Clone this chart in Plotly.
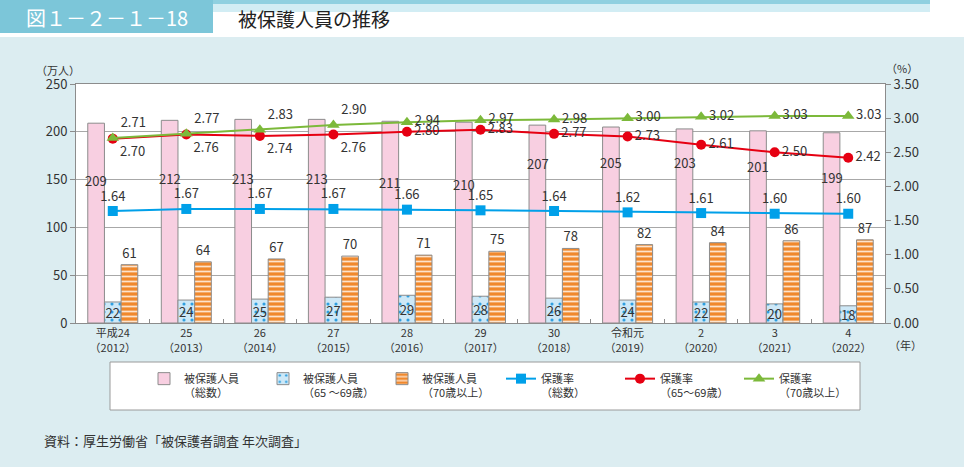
import plotly.graph_objects as go

# ---------------- data ----------------
categories = ["平成24<br>（2012）", "25<br>（2013）", "26<br>（2014）", "27<br>（2015）",
              "28<br>（2016）", "29<br>（2017）", "30<br>（2018）", "令和元<br>（2019）",
              "2<br>（2020）", "3<br>（2021）", "4<br>（2022）"]
total_persons = [209, 212, 213, 213, 211, 210, 207, 205, 203, 201, 199]
persons_65_69 = [22, 24, 25, 27, 29, 28, 26, 24, 22, 20, 18]
persons_70_over = [61, 64, 67, 70, 71, 75, 78, 82, 84, 86, 87]
rate_total = [1.64, 1.67, 1.67, 1.67, 1.66, 1.65, 1.64, 1.62, 1.61, 1.60, 1.60]
rate_65_69 = [2.70, 2.76, 2.74, 2.76, 2.80, 2.83, 2.77, 2.73, 2.61, 2.50, 2.42]
rate_70_over = [2.71, 2.77, 2.83, 2.90, 2.94, 2.97, 2.98, 3.00, 3.02, 3.03, 3.03]

# ---------------- styling ----------------
FONT = "Noto Sans CJK JP"
W, H = 964, 467
L, R, T, B = 76, 79, 84, 144
PW, PH = W - L - R, H - T - B

def px_x(px):
    return (px - L) / PW

def px_y(py):
    return (H - B - py) / PH

pink_label_shift = [-57, -58, -59, -59, -61, -62, -38, -35, -34, -36, -45]
red_pos = ["bottom right"] * 4 + ["middle right"] * 7
green_pos = ["top right"] * 4 + ["middle right"] * 7
LABEL_FONT = dict(family=FONT, size=13, color="#333333")

fig = go.Figure()

fig.add_trace(go.Bar(
    x=categories, y=total_persons, name="被保護人員<br>（総数）",
    marker=dict(color="#f8cfe1", line=dict(color="#8c8c8c", width=1)),
    yaxis="y",
))
fig.add_trace(go.Bar(
    x=categories, y=persons_65_69, name="被保護人員<br>（65 ～69歳）",
    marker=dict(color="#cde8f7", line=dict(color="#8c8c8c", width=1),
                pattern=dict(shape=".", fgcolor="#2f9fe0", bgcolor="#cde8f7",
                             fillmode="replace", size=8, solidity=0.12)),
    text=[str(v) for v in persons_65_69], textposition="inside",
    insidetextanchor="middle", constraintext="none",
    textfont=LABEL_FONT, yaxis="y",
))
fig.add_trace(go.Bar(
    x=categories, y=persons_70_over, name="被保護人員<br>（70歳以上）",
    marker=dict(color="#f0882c", line=dict(color="#8c8c8c", width=1),
                pattern=dict(shape="-", fgcolor="#fde3cc", bgcolor="#f0882c",
                             fillmode="replace", size=5, solidity=0.35)),
    text=[str(v) for v in persons_70_over], textposition="outside",
    constraintext="none", cliponaxis=False,
    textfont=LABEL_FONT, yaxis="y",
))
fig.add_trace(go.Scatter(
    x=categories, y=rate_total, name="保護率<br>（総数）", yaxis="y2",
    mode="lines+markers+text",
    line=dict(color="#00a0e9", width=2),
    marker=dict(symbol="square", size=10, color="#00a0e9"),
    text=[f"{v:.2f}" for v in rate_total], textposition="top center",
    textfont=LABEL_FONT, cliponaxis=False,
))
fig.add_trace(go.Scatter(
    x=categories, y=rate_65_69, name="保護率<br>（65～69歳）", yaxis="y2",
    mode="lines+markers+text",
    line=dict(color="#e60012", width=2),
    marker=dict(symbol="circle", size=10, color="#e60012"),
    text=[f"{v:.2f}" for v in rate_65_69], textposition=red_pos,
    textfont=LABEL_FONT, cliponaxis=False,
))
fig.add_trace(go.Scatter(
    x=categories, y=rate_70_over, name="保護率<br>（70歳以上）", yaxis="y2",
    mode="lines+markers+text",
    line=dict(color="#7cb93a", width=2),
    marker=dict(symbol="triangle-up", size=11, color="#7cb93a"),
    text=[f"{v:.2f}" for v in rate_70_over], textposition=green_pos,
    textfont=LABEL_FONT, cliponaxis=False,
))

annotations = []
for cat, v, sh in zip(categories, total_persons, pink_label_shift):
    annotations.append(dict(x=cat, y=v, xref="x", yref="y", text=str(v), showarrow=False,
                            xanchor="center", yanchor="middle",
                            xshift=-16.5, yshift=sh, font=LABEL_FONT))

def paper_text(px, py, text, size, color="#333333", xanchor="center"):
    return dict(x=px_x(px), y=px_y(py), xref="paper", yref="paper", text=text,
                showarrow=False, xanchor=xanchor, yanchor="middle",
                font=dict(family=FONT, size=size, color=color))

annotations += [
    paper_text(58, 70, "（万人）", 11),
    paper_text(902, 68, "（%）", 11),
    paper_text(906, 345, "（年）", 11),
    paper_text(107, 17, "図１－２－１－18", 20, "#ffffff"),
    paper_text(236, 18, "被保護人員の推移", 19, "#222222", "left"),
    paper_text(42, 440, "資料：厚生労働省「被保護者調査 年次調査」", 13, "#333333", "left"),
]

shapes = [
    dict(type="rect", xref="paper", yref="paper", x0=px_x(0), x1=px_x(W), y0=px_y(0), y1=px_y(37),
         fillcolor="#ffffff", line=dict(width=0), layer="below"),
    dict(type="rect", xref="paper", yref="paper", x0=px_x(213), x1=px_x(930), y0=px_y(0), y1=px_y(4),
         fillcolor="#8fd0e0", line=dict(width=0), layer="below"),
    dict(type="rect", xref="paper", yref="paper", x0=px_x(213), x1=px_x(930), y0=px_y(4), y1=px_y(12),
         fillcolor="#d2edf4", line=dict(width=0), layer="below"),
    dict(type="rect", xref="paper", yref="paper", x0=px_x(0), x1=px_x(213), y0=px_y(0), y1=px_y(33),
         fillcolor="#7cc6d9", line=dict(width=0), layer="below"),
    dict(type="rect", xref="paper", yref="paper", x0=px_x(110), x1=px_x(860), y0=px_y(362), y1=px_y(410),
         fillcolor="#ffffff", line=dict(color="#9a9a9a", width=1), layer="below"),
]

fig.update_layout(
    width=W, height=H,
    margin=dict(l=L, r=R, t=T, b=B, pad=0, autoexpand=False),
    paper_bgcolor="#dcedf1", plot_bgcolor="#ffffff",
    font=dict(family=FONT, size=12, color="#333333"),
    barmode="group", bargap=0.32, bargroupgap=0,
    showlegend=True,
    legend=dict(orientation="h", x=px_x(144), y=px_y(386), xanchor="left", yanchor="middle",
                bgcolor="rgba(0,0,0,0)", borderwidth=0, entrywidth=74, entrywidthmode="pixels",
                valign="top", font=dict(family=FONT, size=11, color="#333333"),
                traceorder="normal", itemwidth=30),
    xaxis=dict(type="category", range=[-0.5, len(categories) - 0.5], autorange=False,
               showline=True, linecolor="#8c8c8c", linewidth=1, mirror=True,
               ticks="inside", tickson="boundaries", ticklen=4, tickcolor="#8c8c8c",
               showgrid=False, automargin=False,
               tickfont=dict(family=FONT, size=11, color="#333333")),
    yaxis=dict(range=[0, 250], dtick=50, showline=True, linecolor="#8c8c8c", linewidth=1,
               ticks="outside", ticklen=5, tickcolor="#8c8c8c", showgrid=True,
               gridcolor="#a8a8a8", gridwidth=1, zeroline=False, automargin=False,
               tickfont=dict(family=FONT, size=13, color="#333333")),
    yaxis2=dict(range=[0, 3.5], dtick=0.5, tickformat=".2f", overlaying="y", side="right",
                showline=True, linecolor="#8c8c8c", linewidth=1, ticks="outside", ticklen=5,
                tickcolor="#8c8c8c", showgrid=False, zeroline=False, automargin=False,
                tickfont=dict(family=FONT, size=13, color="#333333")),
    annotations=annotations,
    shapes=shapes,
)

fig.write_html("out.html", config={"displayModeBar": False},
               post_script="document.body.style.margin='0';")
